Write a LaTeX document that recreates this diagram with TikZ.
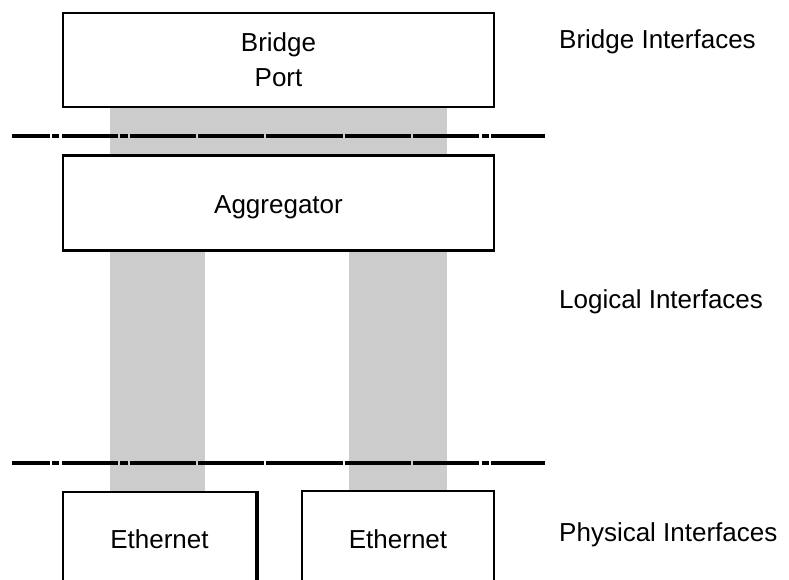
\documentclass[tikz,border=0pt]{standalone}
\usepackage{fontspec}
\setmainfont{Liberation Sans}
\begin{document}
\begin{tikzpicture}[x=1pt,y=-1pt,
  box/.style={draw=black,line width=2.2pt,fill=white,inner sep=0pt},
  band/.style={fill=black!20,draw=none,inner sep=0pt,outer sep=0pt},
  lbl/.style={font=\fontsize{26}{35}\selectfont,inner sep=0pt},
  sepline/.style={line width=3.6pt,line cap=butt}]
\useasboundingbox (0,0) rectangle (789,580);
\clip (0,0) rectangle (789,580);
% gray bands
\fill[black!20] (110,105) rectangle (447,157);
\fill[black!20] (110,248) rectangle (205,493);
\fill[black!20] (349,248) rectangle (447,493);
% boxes
\node[box,minimum width=431pt,minimum height=94pt] (bp) at (278.5,60) {};
\node[lbl,align=center] (bpt) at (278.5,60) {Bridge\\Port};
\node[box,minimum width=431pt,minimum height=95pt] (agg) at (278.5,203) {};
\node[lbl,anchor=base] (aggt) at (278.5,213) {Aggregator};
\node[box,minimum width=193pt,minimum height=120pt,anchor=north] (e1) at (159.5,491) {};
\node[box,minimum width=192pt,minimum height=120pt,anchor=north] (e2) at (398,490) {};
\draw[line width=3.5pt] (e1.north east) -- (e1.south east);
\node[lbl,anchor=base] (e1t) at (159.5,548) {Ethernet};
\node[lbl,anchor=base] (e2t) at (398,548) {Ethernet};
% side labels
\node[lbl,anchor=base west] (l1) at (559,49) {Bridge Interfaces};
\node[lbl,anchor=base west] (l2) at (559,308) {Logical Interfaces};
\node[lbl,anchor=base west] (l3) at (559,541) {Physical Interfaces};
% separator lines
\foreach \yy in {136,463}{
  \foreach \a/\b in {12/49.6,52.4/58.5,62.1/117.5,120.4/127.6,130.1/196.3,198/264.2,266/342.9,344.7/410.9,412.7/478.9,481.8/488.9,491.4/545}{
    \draw[sepline] (\a,\yy) -- (\b,\yy);
  }
}
\end{tikzpicture}
\end{document}
